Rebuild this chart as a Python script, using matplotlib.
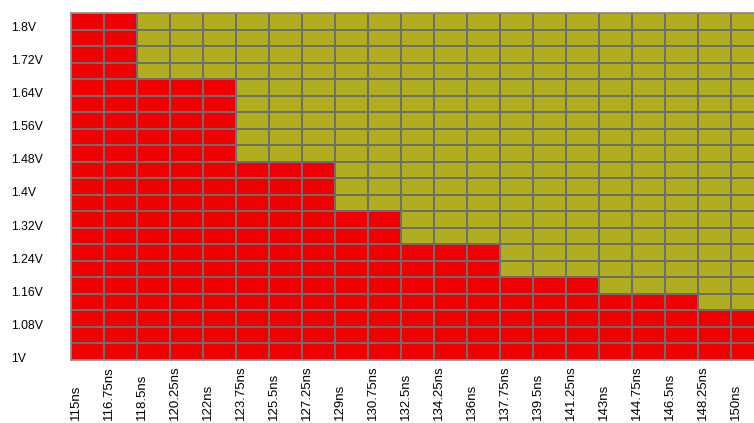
import matplotlib
matplotlib.use('Agg')
from matplotlib import pyplot as plt
from matplotlib.colors import ListedColormap
import numpy as np

plt.rcParams['font.family'] = ['Liberation Sans', 'DejaVu Sans']

# shmoo axes
times = [115, 116.75, 118.5, 120.25, 122, 123.75, 125.5, 127.25, 129, 130.75,
         132.5, 134.25, 136, 137.75, 139.5, 141.25, 143, 144.75, 146.5,
         148.25, 150]
voltages = [1.0, 1.04, 1.08, 1.12, 1.16, 1.2, 1.24, 1.28, 1.32, 1.36, 1.4,
            1.44, 1.48, 1.52, 1.56, 1.6, 1.64, 1.68, 1.72, 1.76, 1.8]
# lowest passing voltage for each time column (None = fails everywhere)
min_pass = [None, None, 1.68, 1.68, 1.68, 1.48, 1.48, 1.48, 1.36, 1.36,
            1.28, 1.28, 1.28, 1.2, 1.2, 1.2, 1.16, 1.16, 1.16, 1.12, 1.12]
ylabels = ['1V', '1.08V', '1.16V', '1.24V', '1.32V', '1.4V', '1.48V',
           '1.56V', '1.64V', '1.72V', '1.8V']
xlabels = [f'{t:g}ns' for t in times]

grid = np.zeros((len(voltages), len(times)))
for c, vmin in enumerate(min_pass):
    for r, v in enumerate(voltages):
        if vmin is not None and round(v, 2) >= vmin:
            grid[r, c] = 1

W, H = 754, 423
fig = plt.figure(figsize=(W / 100, H / 100), dpi=100)
ax = fig.add_axes([71 / W, (H - 360) / H, 693 / W, 347 / H])

cmap = ListedColormap(['#f00000', '#b0ae1e'])
ax.pcolormesh(np.arange(len(times) + 1), np.arange(len(voltages) + 1), grid,
              cmap=cmap, vmin=0, vmax=1, edgecolors='#6e6e6e', linewidth=1.3)
ax.set_xlim(0, len(times))
ax.set_ylim(0, len(voltages))

ax.set_xticks(np.arange(len(times)) + 0.15)
ax.set_xticklabels(xlabels, rotation=90, va='bottom', ha='center', fontsize=9.5)
ax.set_yticks(np.arange(0, len(voltages), 2) + 0.17)
ax.set_yticklabels(ylabels, ha='left', fontsize=8.8)
ax.tick_params(axis='x', length=0, pad=43.5)
ax.tick_params(axis='y', length=0, pad=43)

for s in ax.spines.values():
    s.set_color('#8a8a8a')
    s.set_linewidth(1.2)

fig.savefig('out.png', dpi=100)
